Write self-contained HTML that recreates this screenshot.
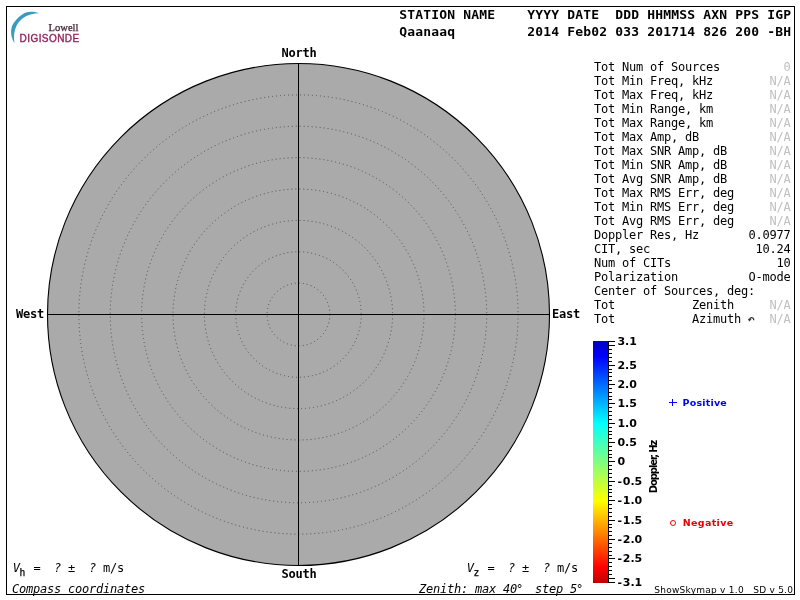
<!DOCTYPE html>
<html lang="en"><head><meta charset="utf-8"><title>Skymap - Qaanaaq</title>
<style>
html,body{margin:0;padding:0;background:#fff;}
body{width:800px;height:600px;overflow:hidden;position:relative;}
svg{position:absolute;left:0;top:0;display:block;will-change:transform;}
text{white-space:pre;}
.mb{font-family:"DejaVu Sans Mono","Liberation Mono",monospace;font-weight:bold;}
.m{font-family:"DejaVu Sans Mono","Liberation Mono",monospace;}
.mi{font-family:"DejaVu Sans Mono","Liberation Mono",monospace;font-style:oblique;}
.s{font-family:"DejaVu Sans","Liberation Sans",sans-serif;}
.sb{font-family:"DejaVu Sans","Liberation Sans",sans-serif;font-weight:bold;}
.h13{font-size:13px;letter-spacing:0.173px;}
.h12{font-size:12px;letter-spacing:-0.2246px;}
.na{fill:#c0c0c0;}
</style></head><body>
<svg width="800" height="600" viewBox="0 0 800 600">
<defs><linearGradient id="dop" x1="0" y1="0" x2="0" y2="1">
<stop offset="0.0000" stop-color="rgb(0, 0, 190)"/>
<stop offset="0.0645" stop-color="rgb(0, 0, 255)"/>
<stop offset="0.3387" stop-color="rgb(0, 255, 255)"/>
<stop offset="0.5000" stop-color="rgb(128, 255, 128)"/>
<stop offset="0.6613" stop-color="rgb(255, 255, 0)"/>
<stop offset="0.9355" stop-color="rgb(255, 0, 0)"/>
<stop offset="1.0000" stop-color="rgb(190, 0, 0)"/>
</linearGradient></defs>
<rect x="6.5" y="6.5" width="788" height="588" fill="none" stroke="#000" stroke-width="1"/>
<path d="M39,13.2 C34,11.2 29,11.3 26,12.5 C21,14.5 16,19 12.5,25 C10.5,29 10.3,37 14.5,43.2 C13.5,36 14,30 17.5,24 C21,18.5 28,13.2 39,13.2 Z" fill="#3a9bc1"/>
<text x="48.5" y="30.5" font-family="'Liberation Serif',serif" font-size="10.6" fill="#3c2030" stroke="#3c2030" stroke-width="0.25">Lowell</text>
<text x="19.6" y="42.4" font-family="'Liberation Sans',sans-serif" font-size="10" style="letter-spacing:0.43px" fill="#93265f" stroke="#93265f" stroke-width="0.4">DIGISONDE</text>
<text class="mb h13" x="399.3" y="19.2">STATION NAME    YYYY DATE  DDD HHMMSS AXN PPS IGP</text>
<text class="mb h13" x="399.3" y="35.7">Qaanaaq         2014 Feb02 033 201714 826 200 -BH</text>
<circle cx="298.5" cy="314.5" r="251" fill="#aaaaaa" stroke="#000" stroke-width="1.1"/>
<circle cx="298.5" cy="314.5" r="31.38" fill="none" stroke="#505050" stroke-width="1" stroke-dasharray="1 3"/>
<circle cx="298.5" cy="314.5" r="62.75" fill="none" stroke="#505050" stroke-width="1" stroke-dasharray="1 3"/>
<circle cx="298.5" cy="314.5" r="94.12" fill="none" stroke="#505050" stroke-width="1" stroke-dasharray="1 3"/>
<circle cx="298.5" cy="314.5" r="125.50" fill="none" stroke="#505050" stroke-width="1" stroke-dasharray="1 3"/>
<circle cx="298.5" cy="314.5" r="156.88" fill="none" stroke="#505050" stroke-width="1" stroke-dasharray="1 3"/>
<circle cx="298.5" cy="314.5" r="188.25" fill="none" stroke="#505050" stroke-width="1" stroke-dasharray="1 3"/>
<circle cx="298.5" cy="314.5" r="219.62" fill="none" stroke="#505050" stroke-width="1" stroke-dasharray="1 3"/>
<line x1="298.5" y1="63.5" x2="298.5" y2="565.5" stroke="#000" stroke-width="1"/>
<line x1="47.5" y1="314.5" x2="549.5" y2="314.5" stroke="#000" stroke-width="1"/>
<text class="mb h12" x="281.5" y="57">North</text>
<text class="mb h12" x="281.5" y="578">South</text>
<text class="mb h12" x="16" y="318">West</text>
<text class="mb h12" x="552" y="318">East</text>
<text class="m h12" x="594" y="71.4">Tot Num of Sources</text>
<text class="m h12 na" x="783.4" y="71.4">0</text>
<text class="m h12" x="594" y="85.4">Tot Min Freq, kHz</text>
<text class="m h12 na" x="769.4" y="85.4">N/A</text>
<text class="m h12" x="594" y="99.4">Tot Max Freq, kHz</text>
<text class="m h12 na" x="769.4" y="99.4">N/A</text>
<text class="m h12" x="594" y="113.4">Tot Min Range, km</text>
<text class="m h12 na" x="769.4" y="113.4">N/A</text>
<text class="m h12" x="594" y="127.4">Tot Max Range, km</text>
<text class="m h12 na" x="769.4" y="127.4">N/A</text>
<text class="m h12" x="594" y="141.4">Tot Max Amp, dB</text>
<text class="m h12 na" x="769.4" y="141.4">N/A</text>
<text class="m h12" x="594" y="155.4">Tot Max SNR Amp, dB</text>
<text class="m h12 na" x="769.4" y="155.4">N/A</text>
<text class="m h12" x="594" y="169.4">Tot Min SNR Amp, dB</text>
<text class="m h12 na" x="769.4" y="169.4">N/A</text>
<text class="m h12" x="594" y="183.4">Tot Avg SNR Amp, dB</text>
<text class="m h12 na" x="769.4" y="183.4">N/A</text>
<text class="m h12" x="594" y="197.4">Tot Max RMS Err, deg</text>
<text class="m h12 na" x="769.4" y="197.4">N/A</text>
<text class="m h12" x="594" y="211.4">Tot Min RMS Err, deg</text>
<text class="m h12 na" x="769.4" y="211.4">N/A</text>
<text class="m h12" x="594" y="225.4">Tot Avg RMS Err, deg</text>
<text class="m h12 na" x="769.4" y="225.4">N/A</text>
<text class="m h12" x="594" y="239.4">Doppler Res, Hz</text>
<text class="m h12" x="748.4" y="239.4">0.0977</text>
<text class="m h12" x="594" y="253.4">CIT, sec</text>
<text class="m h12" x="755.4" y="253.4">10.24</text>
<text class="m h12" x="594" y="267.4">Num of CITs</text>
<text class="m h12" x="776.4" y="267.4">10</text>
<text class="m h12" x="594" y="281.4">Polarization</text>
<text class="m h12" x="748.4" y="281.4">O-mode</text>
<text class="m h12" x="594" y="295.4">Center of Sources, deg:</text>
<text class="m h12" x="594" y="309.4">Tot           Zenith</text>
<text class="m h12 na" x="769.4" y="309.4">N/A</text>
<text class="m h12" x="594" y="323.4">Tot           Azimuth</text>
<text class="m h12 na" x="769.4" y="323.4">N/A</text>
<path d="M753.8,320.3 Q753.6,317.4 751.3,317.6 Q749.8,317.8 749.6,319.6" fill="none" stroke="#333" stroke-width="1.3"/><path d="M747.8,318.8 L751.6,319.3 L749.2,321.6 Z" fill="#333"/>
<rect x="593" y="341" width="15" height="242" fill="url(#dop)"/>
<line x1="608.5" y1="341" x2="608.5" y2="583" stroke="#000" stroke-width="1"/>
<rect x="609" y="341" width="6" height="1" fill="#000"/>
<rect x="609" y="345" width="6" height="1" fill="#000"/>
<rect x="609" y="349" width="3" height="1" fill="#000"/>
<rect x="609" y="353" width="3" height="1" fill="#000"/>
<rect x="609" y="357" width="3" height="1" fill="#000"/>
<rect x="609" y="361" width="3" height="1" fill="#000"/>
<rect x="609" y="365" width="6" height="1" fill="#000"/>
<rect x="609" y="369" width="3" height="1" fill="#000"/>
<rect x="609" y="372" width="3" height="1" fill="#000"/>
<rect x="609" y="376" width="3" height="1" fill="#000"/>
<rect x="609" y="380" width="3" height="1" fill="#000"/>
<rect x="609" y="384" width="6" height="1" fill="#000"/>
<rect x="609" y="388" width="3" height="1" fill="#000"/>
<rect x="609" y="392" width="3" height="1" fill="#000"/>
<rect x="609" y="396" width="3" height="1" fill="#000"/>
<rect x="609" y="399" width="3" height="1" fill="#000"/>
<rect x="609" y="403" width="6" height="1" fill="#000"/>
<rect x="609" y="407" width="3" height="1" fill="#000"/>
<rect x="609" y="411" width="3" height="1" fill="#000"/>
<rect x="609" y="415" width="3" height="1" fill="#000"/>
<rect x="609" y="419" width="3" height="1" fill="#000"/>
<rect x="609" y="423" width="6" height="1" fill="#000"/>
<rect x="609" y="427" width="3" height="1" fill="#000"/>
<rect x="609" y="431" width="3" height="1" fill="#000"/>
<rect x="609" y="434" width="3" height="1" fill="#000"/>
<rect x="609" y="438" width="3" height="1" fill="#000"/>
<rect x="609" y="442" width="6" height="1" fill="#000"/>
<rect x="609" y="446" width="3" height="1" fill="#000"/>
<rect x="609" y="450" width="3" height="1" fill="#000"/>
<rect x="609" y="454" width="3" height="1" fill="#000"/>
<rect x="609" y="457" width="3" height="1" fill="#000"/>
<rect x="609" y="461" width="6" height="1" fill="#000"/>
<rect x="609" y="465" width="3" height="1" fill="#000"/>
<rect x="609" y="469" width="3" height="1" fill="#000"/>
<rect x="609" y="473" width="3" height="1" fill="#000"/>
<rect x="609" y="477" width="3" height="1" fill="#000"/>
<rect x="609" y="481" width="6" height="1" fill="#000"/>
<rect x="609" y="485" width="3" height="1" fill="#000"/>
<rect x="609" y="489" width="3" height="1" fill="#000"/>
<rect x="609" y="492" width="3" height="1" fill="#000"/>
<rect x="609" y="496" width="3" height="1" fill="#000"/>
<rect x="609" y="500" width="6" height="1" fill="#000"/>
<rect x="609" y="504" width="3" height="1" fill="#000"/>
<rect x="609" y="508" width="3" height="1" fill="#000"/>
<rect x="609" y="512" width="3" height="1" fill="#000"/>
<rect x="609" y="516" width="3" height="1" fill="#000"/>
<rect x="609" y="520" width="6" height="1" fill="#000"/>
<rect x="609" y="524" width="3" height="1" fill="#000"/>
<rect x="609" y="527" width="3" height="1" fill="#000"/>
<rect x="609" y="531" width="3" height="1" fill="#000"/>
<rect x="609" y="535" width="3" height="1" fill="#000"/>
<rect x="609" y="539" width="6" height="1" fill="#000"/>
<rect x="609" y="543" width="3" height="1" fill="#000"/>
<rect x="609" y="547" width="3" height="1" fill="#000"/>
<rect x="609" y="551" width="3" height="1" fill="#000"/>
<rect x="609" y="555" width="3" height="1" fill="#000"/>
<rect x="609" y="558" width="6" height="1" fill="#000"/>
<rect x="609" y="562" width="3" height="1" fill="#000"/>
<rect x="609" y="566" width="3" height="1" fill="#000"/>
<rect x="609" y="570" width="3" height="1" fill="#000"/>
<rect x="609" y="574" width="3" height="1" fill="#000"/>
<rect x="609" y="578" width="6" height="1" fill="#000"/>
<rect x="609" y="582" width="6" height="1" fill="#000"/>
<text class="sb" font-size="11" x="617.4" y="345.3">3.1</text>
<text class="sb" font-size="11" x="617.4" y="369.3">2.5</text>
<text class="sb" font-size="11" x="617.4" y="388.3">2.0</text>
<text class="sb" font-size="11" x="617.4" y="407.3">1.5</text>
<text class="sb" font-size="11" x="617.4" y="427.3">1.0</text>
<text class="sb" font-size="11" x="617.4" y="446.3">0.5</text>
<text class="sb" font-size="11" x="617.4" y="465.3">0</text>
<text class="sb" font-size="11" x="617.6" y="485.3">-<tspan dx="0.6">0.5</tspan></text>
<text class="sb" font-size="11" x="617.6" y="504.3">-<tspan dx="0.6">1.0</tspan></text>
<text class="sb" font-size="11" x="617.6" y="524.3">-<tspan dx="0.6">1.5</tspan></text>
<text class="sb" font-size="11" x="617.6" y="543.3">-<tspan dx="0.6">2.0</tspan></text>
<text class="sb" font-size="11" x="617.6" y="562.3">-<tspan dx="0.6">2.5</tspan></text>
<text class="sb" font-size="11" x="617.6" y="586.3">-<tspan dx="0.6">3.1</tspan></text>
<text class="sb" font-size="10" style="letter-spacing:-1.1px" transform="translate(657,493.2) rotate(-90)">Doppler, Hz</text>
<rect x="669" y="402" width="8" height="1" fill="#0000ff"/><rect x="672" y="399" width="1" height="7" fill="#0000ff"/>
<text class="sb" font-size="9.5" style="letter-spacing:0.2px" x="682.5" y="405.7" fill="#0000ff">Positive</text>
<circle cx="673" cy="523" r="2.5" fill="none" stroke="#ee0000" stroke-width="1"/>
<text class="sb" font-size="9.5" style="letter-spacing:0.33px" x="682.8" y="526.2" fill="#ee0000">Negative</text>
<text class="mi h12" x="12.7" y="572">V</text>
<text class="m" font-size="9.6" stroke="#000" stroke-width="0.25" x="19.6" y="575.6">h</text>
<text class="m h12" x="33.5" y="572">=</text>
<text class="mi h12" x="54" y="572">?</text>
<text class="m h12" x="68" y="572">±</text>
<text class="mi h12" x="89" y="572">?</text>
<text class="m h12" x="103" y="572">m/s</text>
<text class="mi h12" x="466.7" y="572">V</text>
<text class="m" font-size="9.6" stroke="#000" stroke-width="0.25" x="473.6" y="575.6">z</text>
<text class="m h12" x="487.5" y="572">=</text>
<text class="mi h12" x="508" y="572">?</text>
<text class="m h12" x="522" y="572">±</text>
<text class="mi h12" x="543" y="572">?</text>
<text class="m h12" x="557" y="572">m/s</text>
<text class="mi h12" x="12" y="592.5">Compass coordinates</text>
<text class="mi h12" x="419" y="592.5">Zenith: max 40<tspan dx="-0.9">°</tspan></text>
<text class="mi h12" x="535" y="592.5">step 5<tspan dx="-0.9">°</tspan></text>
<text class="s" font-size="9" x="654.3" y="592.6" style="letter-spacing:0.25px">ShowSkymap v 1.0   SD v 5.0</text>
</svg></body></html>
